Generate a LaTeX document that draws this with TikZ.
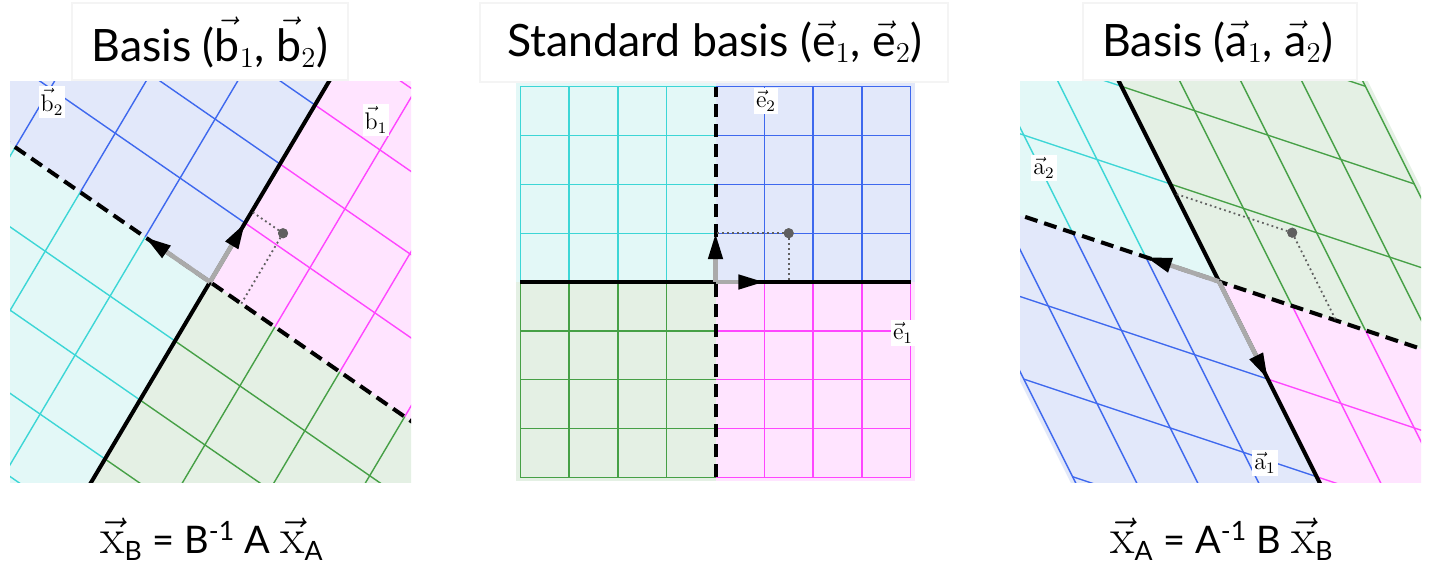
\documentclass[tikz,border=0pt]{standalone}
\usepackage{fontspec}
\newfontfamily\ttl{Lato}
\usetikzlibrary{arrows.meta}
\definecolor{cyF}{RGB}{227,248,247}
\definecolor{cyL}{RGB}{60,214,214}
\definecolor{blF}{RGB}{226,232,250}
\definecolor{blL}{RGB}{62,104,238}
\definecolor{mgF}{RGB}{255,228,255}
\definecolor{mgL}{RGB}{255,70,255}
\definecolor{grF}{RGB}{228,240,228}
\definecolor{grL}{RGB}{70,160,70}
\definecolor{shaft}{RGB}{170,170,170}
\definecolor{dotc}{RGB}{95,95,95}
\definecolor{boxc}{RGB}{244,244,244}
\tikzset{
 gl/.style={line width=0.7pt},
 axsolid/.style={line width=2pt, black},
 axdash/.style={line width=2pt, black, dash pattern=on 6.5pt off 3.5pt},
 vecarrow/.style={draw=shaft, line width=2.3pt, -{Triangle[length=13pt,width=7pt,color=black]}},
 proj/.style={draw=dotc, line width=0.9pt, dash pattern=on 0.9pt off 1.6pt},
 ptdot/.style={circle, fill=dotc, inner sep=0pt, minimum size=5pt},
 lbl/.style={fill=white, inner sep=1pt, font=\fontsize{12}{14}\selectfont},
 ttlbox/.style={draw=boxc, line width=0.6pt, fill=white},
 ttltext/.style={font=\ttl\fontsize{22.3}{26}\selectfont},
 frmtext/.style={font=\ttl\fontsize{19}{23}\selectfont},
}
\newcommand\vx{{\fontsize{25}{28}\selectfont$\vec{\mathrm{x}}$}}
\newcommand\quadrants{%
 \fill[blF] (0,0) -- (4.08,0) -- (4.08,4.08) -- (0,4.08) -- cycle;
 \fill[mgF] (0,0) -- (4.08,0) -- (4.08,-4.08) -- (0,-4.08) -- cycle;
 \fill[cyF] (0,0) -- (-4.08,0) -- (-4.08,4.08) -- (0,4.08) -- cycle;
 \fill[grF] (0,0) -- (-4.08,0) -- (-4.08,-4.08) -- (0,-4.08) -- cycle;
 \foreach \i in {1,...,4}{
  \draw[gl,blL] (\i,0) -- (\i,4); \draw[gl,blL] (0,\i) -- (4,\i);
  \draw[gl,mgL] (\i,0) -- (\i,-4); \draw[gl,mgL] (0,-\i) -- (4,-\i);
  \draw[gl,cyL] (-\i,0) -- (-\i,4); \draw[gl,cyL] (0,\i) -- (-4,\i);
  \draw[gl,grL] (-\i,0) -- (-\i,-4); \draw[gl,grL] (0,-\i) -- (-4,-\i);
 }
 \draw[axsolid] (-4,0) -- (4,0);
 \draw[axdash] (0,-4) -- (0,4);
}
\begin{document}
\begin{tikzpicture}[x=0.5pt,y=-0.5pt]
\useasboundingbox (0,0) rectangle (1429,567);
\fill[white] (0,0) rectangle (1429,567);

% title boxes
\draw[ttlbox] (72,3) rectangle (348,80);
\draw[ttlbox] (480,3) rectangle (948,82);
\draw[ttlbox] (1083,3) rectangle (1357,80);

% ---------- left panel: basis b ----------
\begin{scope}
\clip (10,82) rectangle (411,482);
\begin{scope}[shift={(210,282)}, x={(17.5pt,29.5pt)}, y={(-32.45pt,22.45pt)}]
 \quadrants
 \coordinate (Lo) at (0,0);
 \coordinate (Lv1) at (1,0);
 \coordinate (Lv2) at (0,1);
 \coordinate (Lp1) at (1.193,0);
 \coordinate (Lp2) at (0,-0.482);
 \node[ptdot] (Lp) at (1.193,-0.482) {};
 \draw[proj] (Lp.center) -- (Lp1);
 \draw[proj] (Lp.center) -- (Lp2);
 \draw[vecarrow] (Lo) -- (Lv1);
 \draw[vecarrow] (Lo) -- (Lv2);
 \node[ptdot] at (Lp) {};
\end{scope}
\end{scope}
\node[lbl] (lb1) at (376,120) {$\vec{\mathrm{b}}_1$};
\node[lbl] (lb2) at (52,102) {$\vec{\mathrm{b}}_2$};

% ---------- middle panel: standard basis ----------
\begin{scope}
\clip (514,80) rectangle (917,484);
\begin{scope}[shift={(715.5,282)}, x={(24.4pt,0pt)}, y={(0pt,24.4pt)}]
 \quadrants
 \coordinate (Mo) at (0,0);
 \coordinate (Mv1) at (1,0);
 \coordinate (Mv2) at (0,1);
 \coordinate (Mp1) at (1.5,0);
 \coordinate (Mp2) at (0,1);
 \node[ptdot] (Mp) at (1.5,1) {};
 \draw[proj] (Mp.center) -- (Mp1);
 \draw[proj] (Mp.center) -- (Mp2);
 \draw[vecarrow] (Mo) -- (Mv1);
 \draw[vecarrow] (Mo) -- (Mv2);
 \node[ptdot] at (Mp) {};
\end{scope}
\end{scope}
\node[lbl] (le1) at (903,333) {$\vec{\mathrm{e}}_1$};
\node[lbl] (le2) at (766,101) {$\vec{\mathrm{e}}_2$};

% ---------- right panel: basis a ----------
\begin{scope}
\clip (1020,82) rectangle (1421,482);
\begin{scope}[shift={(1219,281.5)}, x={(24.4pt,-48.8pt)}, y={(-36.6pt,12.2pt)}]
 \quadrants
 \coordinate (Ro) at (0,0);
 \coordinate (Rv1) at (1,0);
 \coordinate (Rv2) at (0,1);
 \coordinate (Rp1) at (-0.9,0);
 \coordinate (Rp2) at (0,-1.6);
 \node[ptdot] (Rp) at (-0.9,-1.6) {};
 \draw[proj] (Rp.center) -- (Rp1);
 \draw[proj] (Rp.center) -- (Rp2);
 \draw[vecarrow] (Ro) -- (Rv1);
 \draw[vecarrow] (Ro) -- (Rv2);
 \node[ptdot] at (Rp) {};
\end{scope}
\end{scope}
\node[lbl] (la1) at (1265,463) {$\vec{\mathrm{a}}_1$};
\node[lbl] (la2) at (1044,168) {$\vec{\mathrm{a}}_2$};

% titles
\node[ttltext] (t1) at (210,42) {Basis ($\vec{\mbox{b}}_1$, $\vec{\mbox{b}}_2$)};
\node[ttltext] (t2) at (715,42) {Standard basis ($\vec{\mbox{e}}_1$, $\vec{\mbox{e}}_2$)};
\node[ttltext] (t3) at (1218,42) {Basis ($\vec{\mbox{a}}_1$, $\vec{\mbox{a}}_2$)};

% formulas
\node[frmtext] (f1) at (212,539) {\vx\textsubscript{B} = B\textsuperscript{-1} A \vx\textsubscript{A}};
\node[frmtext] (f2) at (1222,539) {\vx\textsubscript{A} = A\textsuperscript{-1} B \vx\textsubscript{B}};
\end{tikzpicture}
\end{document}
